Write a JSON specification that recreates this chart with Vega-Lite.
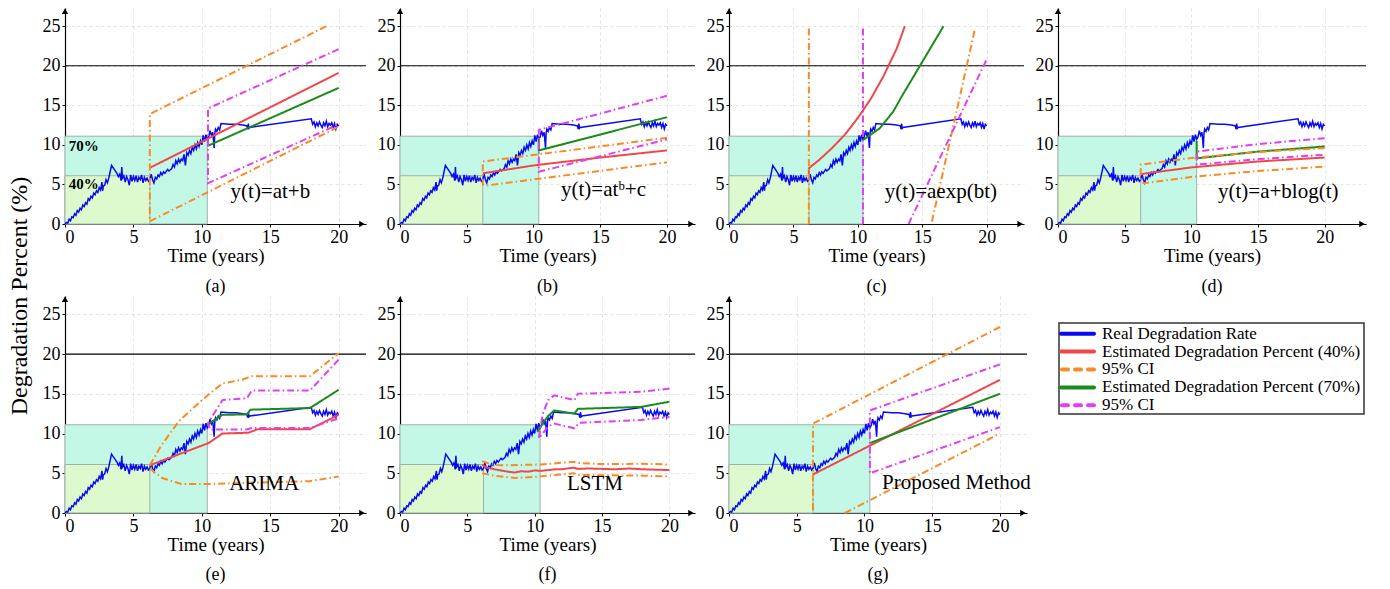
{
"$schema": "https://vega.github.io/schema/vega-lite/v6.json",
"padding": {"left": 7, "top": 8, "right": 0, "bottom": 0},
"title": {"text": "Degradation Percent (%)", "orient": "left", "anchor": "middle", "fontSize": 24, "offset": 10},
"spacing": 0,
"datasets": {
"shade": [{"k":"c","t":0,"t2":10.4,"v":0,"v2":11.1},{"k":"g","t":0,"t2":6.2,"v":0,"v2":6.1}],
"real": [
{"t":0,"v":0},{"t":0.1,"v":0.2},{"t":0.2,"v":0.1},{"t":0.3,"v":0.6},{"t":0.4,"v":0.4},{"t":0.5,"v":0.9},{"t":0.6,"v":0.8},{"t":0.7,"v":1.3},{"t":0.8,"v":1.1},{"t":0.9,"v":1.7},
{"t":1.0,"v":1.5},{"t":1.1,"v":2.0},{"t":1.2,"v":1.8},{"t":1.3,"v":2.4},{"t":1.4,"v":2.2},{"t":1.5,"v":2.7},{"t":1.6,"v":2.5},{"t":1.7,"v":3.2},{"t":1.8,"v":3.0},{"t":1.9,"v":3.5},
{"t":2.0,"v":3.3},{"t":2.1,"v":3.9},{"t":2.2,"v":3.7},{"t":2.3,"v":4.2},{"t":2.4,"v":4.0},{"t":2.5,"v":4.6},{"t":2.6,"v":4.3},{"t":2.7,"v":5.3},{"t":2.75,"v":4.2},{"t":2.8,"v":4.8},{"t":2.9,"v":4.9},
{"t":3.0,"v":5.6},{"t":3.1,"v":5.2},{"t":3.2,"v":5.8},{"t":3.3,"v":6.6},{"t":3.4,"v":7.4},{"t":3.6,"v":6.9},{"t":3.8,"v":6.4},{"t":3.9,"v":6.0},{"t":4.0,"v":6.3},{"t":4.1,"v":5.5},{"t":4.15,"v":7.2},{"t":4.2,"v":5.8},
{"t":4.3,"v":6.1},{"t":4.4,"v":5.3},{"t":4.5,"v":6.0},{"t":4.6,"v":5.6},{"t":4.7,"v":4.9},{"t":4.8,"v":6.2},{"t":4.9,"v":5.4},{"t":5.0,"v":6.0},{"t":5.1,"v":5.5},{"t":5.2,"v":6.1},{"t":5.3,"v":5.3},
{"t":5.4,"v":5.9},{"t":5.5,"v":5.6},{"t":5.6,"v":6.2},{"t":5.7,"v":5.2},{"t":5.8,"v":5.9},{"t":5.9,"v":5.5},{"t":6.0,"v":5.8},{"t":6.1,"v":5.4},{"t":6.2,"v":5.6},{"t":6.3,"v":6.3},{"t":6.4,"v":5.6},
{"t":6.5,"v":5.2},{"t":6.6,"v":5.9},{"t":6.7,"v":5.7},{"t":6.8,"v":6.2},{"t":6.9,"v":6.0},{"t":7.0,"v":6.5},{"t":7.1,"v":6.2},{"t":7.2,"v":6.6},{"t":7.3,"v":6.4},{"t":7.5,"v":6.9},{"t":7.6,"v":6.7},
{"t":7.8,"v":7.0},{"t":7.9,"v":7.5},{"t":8.0,"v":7.2},{"t":8.1,"v":8.0},{"t":8.2,"v":7.6},{"t":8.3,"v":8.2},{"t":8.4,"v":7.8},{"t":8.5,"v":8.2},{"t":8.6,"v":8.0},{"t":8.7,"v":8.8},{"t":8.8,"v":7.4},
{"t":8.9,"v":9.0},{"t":9.0,"v":8.7},{"t":9.1,"v":9.3},{"t":9.2,"v":8.9},{"t":9.3,"v":9.7},{"t":9.4,"v":9.3},{"t":9.5,"v":10.0},{"t":9.6,"v":9.5},{"t":9.7,"v":10.3},{"t":9.8,"v":9.8},{"t":9.9,"v":10.5},
{"t":10.0,"v":10.0},{"t":10.1,"v":11.2},{"t":10.2,"v":10.4},{"t":10.3,"v":11.3},{"t":10.4,"v":10.7},{"t":10.5,"v":11.0},{"t":10.6,"v":11.8},{"t":10.7,"v":11.2},{"t":10.8,"v":11.6},{"t":10.9,"v":9.6},
{"t":10.95,"v":11.5},{"t":11.0,"v":12.0},{"t":11.1,"v":11.7},{"t":11.2,"v":12.2},{"t":11.3,"v":11.9},{"t":11.4,"v":12.7},{"t":12.0,"v":12.6},{"t":12.5,"v":12.6},{"t":13.0,"v":12.5},{"t":13.3,"v":12.4},
{"t":13.35,"v":12.0},{"t":13.4,"v":12.7},{"t":13.45,"v":12.1},{"t":13.5,"v":12.2},{"t":18.0,"v":13.3},{"t":18.1,"v":12.6},{"t":18.2,"v":12.9},{"t":18.3,"v":12.3},{"t":18.4,"v":12.8},{"t":18.5,"v":12.4},
{"t":18.6,"v":12.9},{"t":18.7,"v":12.5},{"t":18.8,"v":12.2},{"t":18.9,"v":12.8},{"t":19.0,"v":12.4},{"t":19.1,"v":13.0},{"t":19.2,"v":12.3},{"t":19.3,"v":12.7},{"t":19.4,"v":12.5},{"t":19.5,"v":12.8},
{"t":19.6,"v":12.2},{"t":19.7,"v":12.7},{"t":19.8,"v":12.0},{"t":19.9,"v":12.6},{"t":20.0,"v":12.4}
],
"pred": [
{"p":"a","s":"r","t":6.2,"v":7.1},{"p":"a","s":"r","t":20,"v":19.1},
{"p":"a","s":"gr","t":10.4,"v":9.85},{"p":"a","s":"gr","t":20,"v":17.2},
{"p":"a","s":"o","t":19.1,"v":25},{"p":"a","s":"o","t":6.2,"v":13.9},{"p":"a","s":"o","t":6.2,"v":0.35},{"p":"a","s":"o","t":20,"v":12.3},
{"p":"a","s":"m","t":20,"v":22.1},{"p":"a","s":"m","t":10.45,"v":14.6},{"p":"a","s":"m","t":10.45,"v":5.15},{"p":"a","s":"m","t":20,"v":12.6},

{"p":"b","s":"r","t":6.2,"v":6.4},{"p":"b","s":"r","t":10,"v":7.4},{"p":"b","s":"r","t":15,"v":8.4},{"p":"b","s":"r","t":20,"v":9.3},
{"p":"b","s":"gr","t":10.4,"v":10.6},{"p":"b","s":"gr","t":10.4,"v":9.3},{"p":"b","s":"gr","t":20,"v":13.5},
{"p":"b","s":"o","t":20,"v":10.9},{"p":"b","s":"o","t":6.2,"v":7.9},{"p":"b","s":"o","t":6.2,"v":5.0},{"p":"b","s":"o","t":6.4,"v":4.85},{"p":"b","s":"o","t":20,"v":7.8},
{"p":"b","s":"m","t":20,"v":16.2},{"p":"b","s":"m","t":10.4,"v":11.9},{"p":"b","s":"m","t":10.4,"v":6.6},{"p":"b","s":"m","t":20,"v":10.7},

{"p":"c","s":"r","t":6.2,"v":5.9},{"p":"c","s":"r","t":6.2,"v":7.05},{"p":"c","s":"r","t":7,"v":8.1},{"p":"c","s":"r","t":8,"v":9.6},{"p":"c","s":"r","t":9,"v":11.3},{"p":"c","s":"r","t":10,"v":13.4},{"p":"c","s":"r","t":11,"v":15.8},{"p":"c","s":"r","t":12,"v":18.7},{"p":"c","s":"r","t":13,"v":22.1},{"p":"c","s":"r","t":13.65,"v":25},
{"p":"c","s":"gr","t":10.4,"v":10.6},{"p":"c","s":"gr","t":11.7,"v":12.1},{"p":"c","s":"gr","t":12.75,"v":14.2},{"p":"c","s":"gr","t":13.4,"v":16.1},{"p":"c","s":"gr","t":16.65,"v":25},
{"p":"c","s":"o","g":1,"t":6.2,"v":0},{"p":"c","s":"o","g":1,"t":6.2,"v":24.8},{"p":"c","s":"o","g":2,"t":15.75,"v":0.3},{"p":"c","s":"o","g":2,"t":19.1,"v":24.7},
{"p":"c","s":"m","g":1,"t":10.4,"v":0},{"p":"c","s":"m","g":1,"t":10.4,"v":25},{"p":"c","s":"m","g":2,"t":13.94,"v":0},{"p":"c","s":"m","g":2,"t":20,"v":20.8},

{"p":"d","s":"r","t":6.2,"v":6.3},{"p":"d","s":"r","t":10,"v":7.15},{"p":"d","s":"r","t":15,"v":7.9},{"p":"d","s":"r","t":20,"v":8.4},
{"p":"d","s":"gr","t":10.4,"v":10.5},{"p":"d","s":"gr","t":10.4,"v":8.3},{"p":"d","s":"gr","t":15,"v":9.15},{"p":"d","s":"gr","t":20,"v":9.8},
{"p":"d","s":"o","t":20,"v":9.6},{"p":"d","s":"o","t":15,"v":9.1},{"p":"d","s":"o","t":10,"v":8.35},{"p":"d","s":"o","t":6.2,"v":7.5},{"p":"d","s":"o","t":6.2,"v":5.5},{"p":"d","s":"o","t":6.45,"v":5.15},{"p":"d","s":"o","t":10,"v":5.95},{"p":"d","s":"o","t":15,"v":6.7},{"p":"d","s":"o","t":20,"v":7.25},
{"p":"d","s":"m","t":20,"v":10.85},{"p":"d","s":"m","t":15,"v":10.1},{"p":"d","s":"m","t":10.4,"v":9.15},{"p":"d","s":"m","t":10.4,"v":7.5},{"p":"d","s":"m","t":15,"v":8.2},{"p":"d","s":"m","t":20,"v":8.75},

{"p":"e","s":"r","t":6.2,"v":6.0},{"p":"e","s":"r","t":10.5,"v":8.8},{"p":"e","s":"r","t":11.5,"v":10.0},{"p":"e","s":"r","t":13.4,"v":10.1},{"p":"e","s":"r","t":14.1,"v":10.55},{"p":"e","s":"r","t":17.9,"v":10.55},{"p":"e","s":"r","t":20,"v":12.35},
{"p":"e","s":"gr","t":10.4,"v":11.1},{"p":"e","s":"gr","t":11.5,"v":12.35},{"p":"e","s":"gr","t":13.3,"v":12.4},{"p":"e","s":"gr","t":13.55,"v":13.0},{"p":"e","s":"gr","t":17.9,"v":13.2},{"p":"e","s":"gr","t":20,"v":15.5},
{"p":"e","s":"o","g":1,"t":6.2,"v":6.0},{"p":"e","s":"o","g":1,"t":7,"v":8.4},{"p":"e","s":"o","g":1,"t":8.3,"v":11.5},{"p":"e","s":"o","g":1,"t":10,"v":14.2},{"p":"e","s":"o","g":1,"t":11.5,"v":16.3},{"p":"e","s":"o","g":1,"t":12.9,"v":16.75},{"p":"e","s":"o","g":1,"t":13.65,"v":17.2},{"p":"e","s":"o","g":1,"t":17.9,"v":17.2},{"p":"e","s":"o","g":1,"t":20,"v":20.1},
{"p":"e","s":"o","g":2,"t":6.2,"v":5.6},{"p":"e","s":"o","g":2,"t":7.1,"v":4.4},{"p":"e","s":"o","g":2,"t":8.5,"v":3.65},{"p":"e","s":"o","g":2,"t":10.5,"v":3.65},{"p":"e","s":"o","g":2,"t":12.4,"v":3.75},{"p":"e","s":"o","g":2,"t":17.9,"v":4.0},{"p":"e","s":"o","g":2,"t":20,"v":4.6},
{"p":"e","s":"m","t":20,"v":19.3},{"p":"e","s":"m","t":17.9,"v":15.4},{"p":"e","s":"m","t":13.65,"v":15.4},{"p":"e","s":"m","t":13.3,"v":14.45},{"p":"e","s":"m","t":11.5,"v":14.2},{"p":"e","s":"m","t":10.45,"v":11.3},{"p":"e","s":"m","t":10.6,"v":10.5},{"p":"e","s":"m","t":13.3,"v":10.5},{"p":"e","s":"m","t":13.65,"v":10.7},{"p":"e","s":"m","t":17.9,"v":10.7},{"p":"e","s":"m","t":20,"v":11.9},

{"p":"f","s":"r","t":6.1,"v":6.05},{"p":"f","s":"r","t":6.5,"v":5.7},{"p":"f","s":"r","t":7,"v":5.5},{"p":"f","s":"r","t":7.5,"v":5.35},{"p":"f","s":"r","t":8,"v":5.2},{"p":"f","s":"r","t":8.5,"v":5.1},{"p":"f","s":"r","t":9,"v":5.25},{"p":"f","s":"r","t":9.5,"v":5.2},{"p":"f","s":"r","t":10,"v":5.35},{"p":"f","s":"r","t":10.5,"v":5.3},{"p":"f","s":"r","t":11,"v":5.4},{"p":"f","s":"r","t":11.5,"v":5.5},{"p":"f","s":"r","t":12,"v":5.5},{"p":"f","s":"r","t":12.9,"v":5.7},{"p":"f","s":"r","t":13.2,"v":5.55},{"p":"f","s":"r","t":14,"v":5.6},{"p":"f","s":"r","t":15,"v":5.55},{"p":"f","s":"r","t":16,"v":5.5},{"p":"f","s":"r","t":17,"v":5.6},{"p":"f","s":"r","t":18,"v":5.5},{"p":"f","s":"r","t":19,"v":5.45},{"p":"f","s":"r","t":20,"v":5.4},
{"p":"f","s":"o","g":1,"t":6.1,"v":6.5},{"p":"f","s":"o","g":1,"t":6.5,"v":6.3},{"p":"f","s":"o","g":1,"t":7.2,"v":6.05},{"p":"f","s":"o","g":1,"t":8,"v":6.0},{"p":"f","s":"o","g":1,"t":9,"v":6.05},{"p":"f","s":"o","g":1,"t":10.5,"v":6.1},{"p":"f","s":"o","g":1,"t":12.9,"v":6.45},{"p":"f","s":"o","g":1,"t":13.2,"v":6.3},{"p":"f","s":"o","g":1,"t":15,"v":6.15},{"p":"f","s":"o","g":1,"t":18,"v":6.2},{"p":"f","s":"o","g":1,"t":20,"v":6.1},
{"p":"f","s":"o","g":2,"t":6.1,"v":5.0},{"p":"f","s":"o","g":2,"t":7,"v":4.7},{"p":"f","s":"o","g":2,"t":8.5,"v":4.4},{"p":"f","s":"o","g":2,"t":10,"v":4.55},{"p":"f","s":"o","g":2,"t":12.9,"v":5.0},{"p":"f","s":"o","g":2,"t":13.2,"v":4.8},{"p":"f","s":"o","g":2,"t":15,"v":4.75},{"p":"f","s":"o","g":2,"t":18,"v":4.7},{"p":"f","s":"o","g":2,"t":20,"v":4.6},
{"p":"f","s":"gr","t":10.2,"v":10.2},{"p":"f","s":"gr","t":10.6,"v":11.3},{"p":"f","s":"gr","t":11,"v":12.2},{"p":"f","s":"gr","t":11.45,"v":12.9},{"p":"f","s":"gr","t":12.95,"v":12.5},{"p":"f","s":"gr","t":13.2,"v":13.1},{"p":"f","s":"gr","t":17.9,"v":13.35},{"p":"f","s":"gr","t":20,"v":14.0},
{"p":"f","s":"m","t":20,"v":15.65},{"p":"f","s":"m","t":17.9,"v":15.25},{"p":"f","s":"m","t":13.2,"v":15.0},{"p":"f","s":"m","t":12.95,"v":14.2},{"p":"f","s":"m","t":11.45,"v":14.8},{"p":"f","s":"m","t":11,"v":14.2},{"p":"f","s":"m","t":10.6,"v":12.5},{"p":"f","s":"m","t":10.3,"v":9.4},{"p":"f","s":"m","t":10.6,"v":10.0},{"p":"f","s":"m","t":11,"v":10.9},{"p":"f","s":"m","t":11.45,"v":11.25},{"p":"f","s":"m","t":12.95,"v":10.65},{"p":"f","s":"m","t":13.3,"v":11.35},{"p":"f","s":"m","t":17.9,"v":11.7},{"p":"f","s":"m","t":20,"v":12.1},

{"p":"g","s":"r","t":6.2,"v":4.85},{"p":"g","s":"r","t":20,"v":16.75},
{"p":"g","s":"gr","t":10.4,"v":8.8},{"p":"g","s":"gr","t":20,"v":15.0},
{"p":"g","s":"o","g":1,"t":20,"v":23.4},{"p":"g","s":"o","g":1,"t":6.2,"v":11.25},{"p":"g","s":"o","g":1,"t":6.2,"v":0},
{"p":"g","s":"o","g":2,"t":8.55,"v":0},{"p":"g","s":"o","g":2,"t":20,"v":10.0},
{"p":"g","s":"m","t":20,"v":18.7},{"p":"g","s":"m","t":10.4,"v":12.9},{"p":"g","s":"m","t":10.4,"v":5.0},{"p":"g","s":"m","t":20,"v":10.8}
],
"labels": [
{"p":"a","t":12.1,"v":4.0,"txt":"y(t)=at+b"},
{"p":"b","t":12.06,"v":4.3,"txt":"y(t)=atᵇ+c"},
{"p":"c","t":12.1,"v":4.0,"txt":"y(t)=aexp(bt)"},
{"p":"d","t":12.0,"v":4.1,"txt":"y(t)=a+blog(t)"},
{"p":"e","t":12.0,"v":3.6,"txt":"ARIMA"},
{"p":"f","t":12.4,"v":3.6,"txt":"LSTM"},
{"p":"g","t":11.3,"v":3.8,"txt":"Proposed Method"}
],
"pct": [{"t":0.27,"v":9.9,"txt":"70%"},{"t":0.27,"v":5.0,"txt":"40%"}],
"legend": [
{"row":0,"s":"b","lab":"Real Degradation Rate"},
{"row":1,"s":"r","lab":"Estimated Degradation Percent (40%)"},
{"row":2,"s":"o","lab":"95% CI"},
{"row":3,"s":"gr","lab":"Estimated Degradation Percent (70%)"},
{"row":4,"s":"m","lab":"95% CI"}
]
},
"vconcat": [
{"spacing": 10, "hconcat": [
{"width": 301, "height": 216, "title": {"text": "(a)", "orient": "bottom", "offset": 13},
"layer": [
{"data": {"name": "shade"}, "mark": {"type": "rect", "stroke": "#9fb0a8", "strokeWidth": 1},
 "encoding": {"x": {"field": "t", "type": "quantitative", "scale": {"domain": [0, 22], "nice": false, "zero": false}, "axis": {"values": [0,2.5,5,7.5,10,12.5,15,17.5,20], "labelExpr": "datum.value % 5 === 0 ? datum.label : ''", "title": "Time (years)"}}, "x2": {"field": "t2"},
 "y": {"field": "v", "type": "quantitative", "scale": {"domain": [0, 27.3], "nice": false}, "axis": {"values": [0,2.5,5,7.5,10,12.5,15,17.5,20,22.5,25], "labelExpr": "datum.value % 5 === 0 ? datum.label : ''", "title": null}}, "y2": {"field": "v2"},
 "fill": {"field": "k", "type": "nominal", "scale": {"domain": ["c","g"], "range": ["#c3f8e6","#dcfacd"]}, "legend": null}}},
{"data": {"values": [{}]}, "mark": {"type": "rule", "color": "black", "strokeWidth": 1.2}, "encoding": {"y": {"datum": 20}}},
{"data": {"values": [{}]}, "mark": {"type": "point", "shape": "triangle-right", "filled": true, "color": "black", "size": 40, "opacity": 1}, "encoding": {"x": {"datum": 21.7}, "y": {"datum": 0}}},
{"data": {"values": [{}]}, "mark": {"type": "point", "shape": "triangle-up", "filled": true, "color": "black", "size": 40, "opacity": 1}, "encoding": {"x": {"datum": 0}, "y": {"datum": 26.9}}},
{"data": {"name": "real"}, "mark": {"type": "line", "color": "#0a0aee", "strokeWidth": 1.5}, "encoding": {"x": {"field": "t", "type": "quantitative"}, "y": {"field": "v", "type": "quantitative"}}},
{"data": {"name": "pred"}, "transform": [{"filter": "datum.p === 'a'"}, {"window": [{"op": "row_number", "as": "o"}]}], "mark": {"type": "line"},
 "encoding": {"x": {"field": "t", "type": "quantitative"}, "y": {"field": "v", "type": "quantitative"}, "detail": {"field": "g"}, "order": {"field": "o"},
 "color": {"field": "s", "type": "nominal", "scale": {"domain": ["b","r","gr","o","m"], "range": ["#0a0aee","#f0484a","#1a8c1a","#f98a25","#e040f0"]}, "legend": null},
 "strokeDash": {"field": "s", "type": "nominal", "scale": {"domain": ["r","gr","o","m"], "range": [[1,0],[1,0],[7,3,1.5,3],[7,3,1.5,3]]}, "legend": null},
 "strokeWidth": {"field": "s", "type": "ordinal", "scale": {"domain": ["r","gr","o","m"], "range": [2,2,1.4,1.4]}, "legend": null}}},
{"data": {"name": "labels"}, "transform": [{"filter": "datum.p === 'a'"}], "mark": {"type": "text", "align": "left", "baseline": "middle", "fontSize": 21, "font": "Liberation Serif"}, "encoding": {"x": {"field": "t", "type": "quantitative"}, "y": {"field": "v", "type": "quantitative"}, "text": {"field": "txt"}}},
{"data": {"name": "pct"}, "mark": {"type": "text", "align": "left", "baseline": "middle", "fontSize": 15, "fontWeight": "bold", "font": "Liberation Serif"}, "encoding": {"x": {"field": "t", "type": "quantitative"}, "y": {"field": "v", "type": "quantitative"}, "text": {"field": "txt"}}}
]},
{"width": 295, "height": 216, "title": {"text": "(b)", "orient": "bottom", "offset": 13},
"layer": [
{"data": {"name": "shade"}, "mark": {"type": "rect", "stroke": "#9fb0a8", "strokeWidth": 1},
 "encoding": {"x": {"field": "t", "type": "quantitative", "scale": {"domain": [0, 22.1], "nice": false, "zero": false}, "axis": {"values": [0,2.5,5,7.5,10,12.5,15,17.5,20], "labelExpr": "datum.value % 5 === 0 ? datum.label : ''", "title": "Time (years)"}}, "x2": {"field": "t2"},
 "y": {"field": "v", "type": "quantitative", "scale": {"domain": [0, 27.3], "nice": false}, "axis": {"values": [0,2.5,5,7.5,10,12.5,15,17.5,20,22.5,25], "labelExpr": "datum.value % 5 === 0 ? datum.label : ''", "title": null}}, "y2": {"field": "v2"},
 "fill": {"field": "k", "type": "nominal", "scale": {"domain": ["c","g"], "range": ["#c3f8e6","#dcfacd"]}, "legend": null}}},
{"data": {"values": [{}]}, "mark": {"type": "rule", "color": "black", "strokeWidth": 1.2}, "encoding": {"y": {"datum": 20}}},
{"data": {"values": [{}]}, "mark": {"type": "point", "shape": "triangle-right", "filled": true, "color": "black", "size": 40, "opacity": 1}, "encoding": {"x": {"datum": 21.8}, "y": {"datum": 0}}},
{"data": {"values": [{}]}, "mark": {"type": "point", "shape": "triangle-up", "filled": true, "color": "black", "size": 40, "opacity": 1}, "encoding": {"x": {"datum": 0}, "y": {"datum": 26.9}}},
{"data": {"name": "real"}, "mark": {"type": "line", "color": "#0a0aee", "strokeWidth": 1.5}, "encoding": {"x": {"field": "t", "type": "quantitative"}, "y": {"field": "v", "type": "quantitative"}}},
{"data": {"name": "pred"}, "transform": [{"filter": "datum.p === 'b'"}, {"window": [{"op": "row_number", "as": "o"}]}], "mark": {"type": "line"},
 "encoding": {"x": {"field": "t", "type": "quantitative"}, "y": {"field": "v", "type": "quantitative"}, "detail": {"field": "g"}, "order": {"field": "o"},
 "color": {"field": "s", "type": "nominal", "scale": {"domain": ["b","r","gr","o","m"], "range": ["#0a0aee","#f0484a","#1a8c1a","#f98a25","#e040f0"]}, "legend": null},
 "strokeDash": {"field": "s", "type": "nominal", "scale": {"domain": ["r","gr","o","m"], "range": [[1,0],[1,0],[7,3,1.5,3],[7,3,1.5,3]]}, "legend": null},
 "strokeWidth": {"field": "s", "type": "ordinal", "scale": {"domain": ["r","gr","o","m"], "range": [2,2,1.4,1.4]}, "legend": null}}},
{"data": {"name": "labels"}, "transform": [{"filter": "datum.p === 'b'"}], "mark": {"type": "text", "align": "left", "baseline": "middle", "fontSize": 21, "font": "Liberation Serif"}, "encoding": {"x": {"field": "t", "type": "quantitative"}, "y": {"field": "v", "type": "quantitative"}, "text": {"field": "txt"}}}
]},
{"width": 295, "height": 216, "title": {"text": "(c)", "orient": "bottom", "offset": 13},
"layer": [
{"data": {"name": "shade"}, "mark": {"type": "rect", "stroke": "#9fb0a8", "strokeWidth": 1},
 "encoding": {"x": {"field": "t", "type": "quantitative", "scale": {"domain": [0, 22.9], "nice": false, "zero": false}, "axis": {"values": [0,2.5,5,7.5,10,12.5,15,17.5,20], "labelExpr": "datum.value % 5 === 0 ? datum.label : ''", "title": "Time (years)"}}, "x2": {"field": "t2"},
 "y": {"field": "v", "type": "quantitative", "scale": {"domain": [0, 27.3], "nice": false}, "axis": {"values": [0,2.5,5,7.5,10,12.5,15,17.5,20,22.5,25], "labelExpr": "datum.value % 5 === 0 ? datum.label : ''", "title": null}}, "y2": {"field": "v2"},
 "fill": {"field": "k", "type": "nominal", "scale": {"domain": ["c","g"], "range": ["#c3f8e6","#dcfacd"]}, "legend": null}}},
{"data": {"values": [{}]}, "mark": {"type": "rule", "color": "black", "strokeWidth": 1.2}, "encoding": {"y": {"datum": 20}}},
{"data": {"values": [{}]}, "mark": {"type": "point", "shape": "triangle-right", "filled": true, "color": "black", "size": 40, "opacity": 1}, "encoding": {"x": {"datum": 22.6}, "y": {"datum": 0}}},
{"data": {"values": [{}]}, "mark": {"type": "point", "shape": "triangle-up", "filled": true, "color": "black", "size": 40, "opacity": 1}, "encoding": {"x": {"datum": 0}, "y": {"datum": 26.9}}},
{"data": {"name": "real"}, "mark": {"type": "line", "color": "#0a0aee", "strokeWidth": 1.5}, "encoding": {"x": {"field": "t", "type": "quantitative"}, "y": {"field": "v", "type": "quantitative"}}},
{"data": {"name": "pred"}, "transform": [{"filter": "datum.p === 'c'"}, {"window": [{"op": "row_number", "as": "o"}]}], "mark": {"type": "line"},
 "encoding": {"x": {"field": "t", "type": "quantitative"}, "y": {"field": "v", "type": "quantitative"}, "detail": {"field": "g"}, "order": {"field": "o"},
 "color": {"field": "s", "type": "nominal", "scale": {"domain": ["b","r","gr","o","m"], "range": ["#0a0aee","#f0484a","#1a8c1a","#f98a25","#e040f0"]}, "legend": null},
 "strokeDash": {"field": "s", "type": "nominal", "scale": {"domain": ["r","gr","o","m"], "range": [[1,0],[1,0],[7,3,1.5,3],[7,3,1.5,3]]}, "legend": null},
 "strokeWidth": {"field": "s", "type": "ordinal", "scale": {"domain": ["r","gr","o","m"], "range": [2,2,1.4,1.4]}, "legend": null}}},
{"data": {"name": "labels"}, "transform": [{"filter": "datum.p === 'c'"}], "mark": {"type": "text", "align": "left", "baseline": "middle", "fontSize": 21, "font": "Liberation Serif"}, "encoding": {"x": {"field": "t", "type": "quantitative"}, "y": {"field": "v", "type": "quantitative"}, "text": {"field": "txt"}}}
]},
{"width": 308, "height": 216, "title": {"text": "(d)", "orient": "bottom", "offset": 13},
"layer": [
{"data": {"name": "shade"}, "mark": {"type": "rect", "stroke": "#9fb0a8", "strokeWidth": 1},
 "encoding": {"x": {"field": "t", "type": "quantitative", "scale": {"domain": [0, 23.1], "nice": false, "zero": false}, "axis": {"values": [0,2.5,5,7.5,10,12.5,15,17.5,20], "labelExpr": "datum.value % 5 === 0 ? datum.label : ''", "title": "Time (years)"}}, "x2": {"field": "t2"},
 "y": {"field": "v", "type": "quantitative", "scale": {"domain": [0, 27.3], "nice": false}, "axis": {"values": [0,2.5,5,7.5,10,12.5,15,17.5,20,22.5,25], "labelExpr": "datum.value % 5 === 0 ? datum.label : ''", "title": null}}, "y2": {"field": "v2"},
 "fill": {"field": "k", "type": "nominal", "scale": {"domain": ["c","g"], "range": ["#c3f8e6","#dcfacd"]}, "legend": null}}},
{"data": {"values": [{}]}, "mark": {"type": "rule", "color": "black", "strokeWidth": 1.2}, "encoding": {"y": {"datum": 20}}},
{"data": {"values": [{}]}, "mark": {"type": "point", "shape": "triangle-right", "filled": true, "color": "black", "size": 40, "opacity": 1}, "encoding": {"x": {"datum": 22.8}, "y": {"datum": 0}}},
{"data": {"values": [{}]}, "mark": {"type": "point", "shape": "triangle-up", "filled": true, "color": "black", "size": 40, "opacity": 1}, "encoding": {"x": {"datum": 0}, "y": {"datum": 26.9}}},
{"data": {"name": "real"}, "mark": {"type": "line", "color": "#0a0aee", "strokeWidth": 1.5}, "encoding": {"x": {"field": "t", "type": "quantitative"}, "y": {"field": "v", "type": "quantitative"}}},
{"data": {"name": "pred"}, "transform": [{"filter": "datum.p === 'd'"}, {"window": [{"op": "row_number", "as": "o"}]}], "mark": {"type": "line"},
 "encoding": {"x": {"field": "t", "type": "quantitative"}, "y": {"field": "v", "type": "quantitative"}, "detail": {"field": "g"}, "order": {"field": "o"},
 "color": {"field": "s", "type": "nominal", "scale": {"domain": ["b","r","gr","o","m"], "range": ["#0a0aee","#f0484a","#1a8c1a","#f98a25","#e040f0"]}, "legend": null},
 "strokeDash": {"field": "s", "type": "nominal", "scale": {"domain": ["r","gr","o","m"], "range": [[1,0],[1,0],[7,3,1.5,3],[7,3,1.5,3]]}, "legend": null},
 "strokeWidth": {"field": "s", "type": "ordinal", "scale": {"domain": ["r","gr","o","m"], "range": [2,2,1.4,1.4]}, "legend": null}}},
{"data": {"name": "labels"}, "transform": [{"filter": "datum.p === 'd'"}], "mark": {"type": "text", "align": "left", "baseline": "middle", "fontSize": 21, "font": "Liberation Serif"}, "encoding": {"x": {"field": "t", "type": "quantitative"}, "y": {"field": "v", "type": "quantitative"}, "text": {"field": "txt"}}}
]}
]},
{"spacing": 10, "hconcat": [
{"width": 301, "height": 217, "title": {"text": "(e)", "orient": "bottom", "offset": 12},
"layer": [
{"data": {"name": "shade"}, "mark": {"type": "rect", "stroke": "#9fb0a8", "strokeWidth": 1},
 "encoding": {"x": {"field": "t", "type": "quantitative", "scale": {"domain": [0, 22], "nice": false, "zero": false}, "axis": {"values": [0,2.5,5,7.5,10,12.5,15,17.5,20], "labelExpr": "datum.value % 5 === 0 ? datum.label : ''", "title": "Time (years)"}}, "x2": {"field": "t2"},
 "y": {"field": "v", "type": "quantitative", "scale": {"domain": [0, 27.3], "nice": false}, "axis": {"values": [0,2.5,5,7.5,10,12.5,15,17.5,20,22.5,25], "labelExpr": "datum.value % 5 === 0 ? datum.label : ''", "title": null}}, "y2": {"field": "v2"},
 "fill": {"field": "k", "type": "nominal", "scale": {"domain": ["c","g"], "range": ["#c3f8e6","#dcfacd"]}, "legend": null}}},
{"data": {"values": [{}]}, "mark": {"type": "rule", "color": "black", "strokeWidth": 1.2}, "encoding": {"y": {"datum": 20}}},
{"data": {"values": [{}]}, "mark": {"type": "point", "shape": "triangle-right", "filled": true, "color": "black", "size": 40, "opacity": 1}, "encoding": {"x": {"datum": 21.7}, "y": {"datum": 0}}},
{"data": {"values": [{}]}, "mark": {"type": "point", "shape": "triangle-up", "filled": true, "color": "black", "size": 40, "opacity": 1}, "encoding": {"x": {"datum": 0}, "y": {"datum": 26.9}}},
{"data": {"name": "real"}, "mark": {"type": "line", "color": "#0a0aee", "strokeWidth": 1.5}, "encoding": {"x": {"field": "t", "type": "quantitative"}, "y": {"field": "v", "type": "quantitative"}}},
{"data": {"name": "pred"}, "transform": [{"filter": "datum.p === 'e'"}, {"window": [{"op": "row_number", "as": "o"}]}], "mark": {"type": "line"},
 "encoding": {"x": {"field": "t", "type": "quantitative"}, "y": {"field": "v", "type": "quantitative"}, "detail": {"field": "g"}, "order": {"field": "o"},
 "color": {"field": "s", "type": "nominal", "scale": {"domain": ["b","r","gr","o","m"], "range": ["#0a0aee","#f0484a","#1a8c1a","#f98a25","#e040f0"]}, "legend": null},
 "strokeDash": {"field": "s", "type": "nominal", "scale": {"domain": ["r","gr","o","m"], "range": [[1,0],[1,0],[7,3,1.5,3],[7,3,1.5,3]]}, "legend": null},
 "strokeWidth": {"field": "s", "type": "ordinal", "scale": {"domain": ["r","gr","o","m"], "range": [2,2,1.4,1.4]}, "legend": null}}},
{"data": {"name": "labels"}, "transform": [{"filter": "datum.p === 'e'"}], "mark": {"type": "text", "align": "left", "baseline": "middle", "fontSize": 21, "font": "Liberation Serif"}, "encoding": {"x": {"field": "t", "type": "quantitative"}, "y": {"field": "v", "type": "quantitative"}, "text": {"field": "txt"}}}
]},
{"width": 295, "height": 217, "title": {"text": "(f)", "orient": "bottom", "offset": 12},
"layer": [
{"data": {"name": "shade"}, "mark": {"type": "rect", "stroke": "#9fb0a8", "strokeWidth": 1},
 "encoding": {"x": {"field": "t", "type": "quantitative", "scale": {"domain": [0, 21.9], "nice": false, "zero": false}, "axis": {"values": [0,2.5,5,7.5,10,12.5,15,17.5,20], "labelExpr": "datum.value % 5 === 0 ? datum.label : ''", "title": "Time (years)"}}, "x2": {"field": "t2"},
 "y": {"field": "v", "type": "quantitative", "scale": {"domain": [0, 27.3], "nice": false}, "axis": {"values": [0,2.5,5,7.5,10,12.5,15,17.5,20,22.5,25], "labelExpr": "datum.value % 5 === 0 ? datum.label : ''", "title": null}}, "y2": {"field": "v2"},
 "fill": {"field": "k", "type": "nominal", "scale": {"domain": ["c","g"], "range": ["#c3f8e6","#dcfacd"]}, "legend": null}}},
{"data": {"values": [{}]}, "mark": {"type": "rule", "color": "black", "strokeWidth": 1.2}, "encoding": {"y": {"datum": 20}}},
{"data": {"values": [{}]}, "mark": {"type": "point", "shape": "triangle-right", "filled": true, "color": "black", "size": 40, "opacity": 1}, "encoding": {"x": {"datum": 21.6}, "y": {"datum": 0}}},
{"data": {"values": [{}]}, "mark": {"type": "point", "shape": "triangle-up", "filled": true, "color": "black", "size": 40, "opacity": 1}, "encoding": {"x": {"datum": 0}, "y": {"datum": 26.9}}},
{"data": {"name": "real"}, "mark": {"type": "line", "color": "#0a0aee", "strokeWidth": 1.5}, "encoding": {"x": {"field": "t", "type": "quantitative"}, "y": {"field": "v", "type": "quantitative"}}},
{"data": {"name": "pred"}, "transform": [{"filter": "datum.p === 'f'"}, {"window": [{"op": "row_number", "as": "o"}]}], "mark": {"type": "line"},
 "encoding": {"x": {"field": "t", "type": "quantitative"}, "y": {"field": "v", "type": "quantitative"}, "detail": {"field": "g"}, "order": {"field": "o"},
 "color": {"field": "s", "type": "nominal", "scale": {"domain": ["b","r","gr","o","m"], "range": ["#0a0aee","#f0484a","#1a8c1a","#f98a25","#e040f0"]}, "legend": null},
 "strokeDash": {"field": "s", "type": "nominal", "scale": {"domain": ["r","gr","o","m"], "range": [[1,0],[1,0],[7,3,1.5,3],[7,3,1.5,3]]}, "legend": null},
 "strokeWidth": {"field": "s", "type": "ordinal", "scale": {"domain": ["r","gr","o","m"], "range": [2,2,1.4,1.4]}, "legend": null}}},
{"data": {"name": "labels"}, "transform": [{"filter": "datum.p === 'f'"}], "mark": {"type": "text", "align": "left", "baseline": "middle", "fontSize": 21, "font": "Liberation Serif"}, "encoding": {"x": {"field": "t", "type": "quantitative"}, "y": {"field": "v", "type": "quantitative"}, "text": {"field": "txt"}}}
]},
{"width": 298, "height": 217, "title": {"text": "(g)", "orient": "bottom", "offset": 12},
"layer": [
{"data": {"name": "shade"}, "mark": {"type": "rect", "stroke": "#9fb0a8", "strokeWidth": 1},
 "encoding": {"x": {"field": "t", "type": "quantitative", "scale": {"domain": [0, 22], "nice": false, "zero": false}, "axis": {"values": [0,2.5,5,7.5,10,12.5,15,17.5,20], "labelExpr": "datum.value % 5 === 0 ? datum.label : ''", "title": "Time (years)"}}, "x2": {"field": "t2"},
 "y": {"field": "v", "type": "quantitative", "scale": {"domain": [0, 27.3], "nice": false}, "axis": {"values": [0,2.5,5,7.5,10,12.5,15,17.5,20,22.5,25], "labelExpr": "datum.value % 5 === 0 ? datum.label : ''", "title": null}}, "y2": {"field": "v2"},
 "fill": {"field": "k", "type": "nominal", "scale": {"domain": ["c","g"], "range": ["#c3f8e6","#dcfacd"]}, "legend": null}}},
{"data": {"values": [{}]}, "mark": {"type": "rule", "color": "black", "strokeWidth": 1.2}, "encoding": {"y": {"datum": 20}}},
{"data": {"values": [{}]}, "mark": {"type": "point", "shape": "triangle-right", "filled": true, "color": "black", "size": 40, "opacity": 1}, "encoding": {"x": {"datum": 21.7}, "y": {"datum": 0}}},
{"data": {"values": [{}]}, "mark": {"type": "point", "shape": "triangle-up", "filled": true, "color": "black", "size": 40, "opacity": 1}, "encoding": {"x": {"datum": 0}, "y": {"datum": 26.9}}},
{"data": {"name": "real"}, "mark": {"type": "line", "color": "#0a0aee", "strokeWidth": 1.5}, "encoding": {"x": {"field": "t", "type": "quantitative"}, "y": {"field": "v", "type": "quantitative"}}},
{"data": {"name": "pred"}, "transform": [{"filter": "datum.p === 'g'"}, {"window": [{"op": "row_number", "as": "o"}]}], "mark": {"type": "line"},
 "encoding": {"x": {"field": "t", "type": "quantitative"}, "y": {"field": "v", "type": "quantitative"}, "detail": {"field": "g"}, "order": {"field": "o"},
 "color": {"field": "s", "type": "nominal", "scale": {"domain": ["b","r","gr","o","m"], "range": ["#0a0aee","#f0484a","#1a8c1a","#f98a25","#e040f0"]}, "legend": null},
 "strokeDash": {"field": "s", "type": "nominal", "scale": {"domain": ["r","gr","o","m"], "range": [[1,0],[1,0],[7,3,1.5,3],[7,3,1.5,3]]}, "legend": null},
 "strokeWidth": {"field": "s", "type": "ordinal", "scale": {"domain": ["r","gr","o","m"], "range": [2,2,1.4,1.4]}, "legend": null}}},
{"data": {"name": "labels"}, "transform": [{"filter": "datum.p === 'g'"}], "mark": {"type": "text", "align": "left", "baseline": "middle", "fontSize": 21, "font": "Liberation Serif"}, "encoding": {"x": {"field": "t", "type": "quantitative"}, "y": {"field": "v", "type": "quantitative"}, "text": {"field": "txt"}}}
]},
{"width": 330, "height": 120,
"layer": [
{"data": {"values": [{}]}, "mark": {"type": "rect", "filled": false, "color": "#333333", "strokeWidth": 1.5},
 "encoding": {"x": {"datum": 18, "type": "quantitative", "scale": {"domain": [0, 330], "nice": false, "zero": false}, "axis": null}, "x2": {"datum": 323},
 "y": {"datum": -0.6, "type": "quantitative", "scale": {"domain": [-2.106, 4.598], "reverse": true, "nice": false, "zero": false}, "axis": null}, "y2": {"datum": 4.486}}},
{"data": {"name": "legend"}, "transform": [{"filter": "datum.s === 'b' || datum.s === 'r' || datum.s === 'gr'"}], "mark": {"type": "rule", "strokeWidth": 4, "strokeCap": "round"},
 "encoding": {"x": {"datum": 20, "type": "quantitative", "axis": null}, "x2": {"datum": 53}, "y": {"field": "row", "type": "quantitative", "axis": null},
 "color": {"field": "s", "type": "nominal", "scale": {"domain": ["b","r","gr","o","m"], "range": ["#0a0aee","#f0484a","#1a8c1a","#f98a25","#e040f0"]}, "legend": null}}},
{"data": {"name": "legend"}, "transform": [{"filter": "datum.s === 'o' || datum.s === 'm'"}], "mark": {"type": "rule", "strokeWidth": 4, "strokeCap": "round", "strokeDash": [6, 7]},
 "encoding": {"x": {"datum": 21, "type": "quantitative", "axis": null}, "x2": {"datum": 53}, "y": {"field": "row", "type": "quantitative", "axis": null},
 "color": {"field": "s", "type": "nominal", "scale": {"domain": ["b","r","gr","o","m"], "range": ["#0a0aee","#f0484a","#1a8c1a","#f98a25","#e040f0"]}, "legend": null}}},
{"data": {"name": "legend"}, "mark": {"type": "text", "align": "left", "baseline": "middle", "fontSize": 17, "font": "Liberation Serif"},
 "encoding": {"x": {"datum": 61, "type": "quantitative", "axis": null}, "y": {"field": "row", "type": "quantitative", "axis": null}, "text": {"field": "lab"}}}
]}
]}
],
"config": {
"font": "Liberation Serif",
"view": {"stroke": null},
"axis": {"labelFont": "Liberation Serif", "labelFontSize": 18, "labelColor": "black", "titleFont": "Liberation Serif", "titleFontSize": 19, "titleFontWeight": "normal", "titleColor": "black", "domainColor": "black", "domainWidth": 1.2, "tickColor": "black", "tickSize": 3, "labelPadding": 2, "gridColor": "#dcdcdc", "gridDash": [3, 3], "gridWidth": 0.8, "labelOverlap": false},
"axisX": {"titlePadding": 0, "labelPadding": 1},
"title": {"font": "Liberation Serif", "fontSize": 18, "fontWeight": "normal", "color": "black"},
"text": {"color": "black", "font": "Liberation Serif"}
}
}
